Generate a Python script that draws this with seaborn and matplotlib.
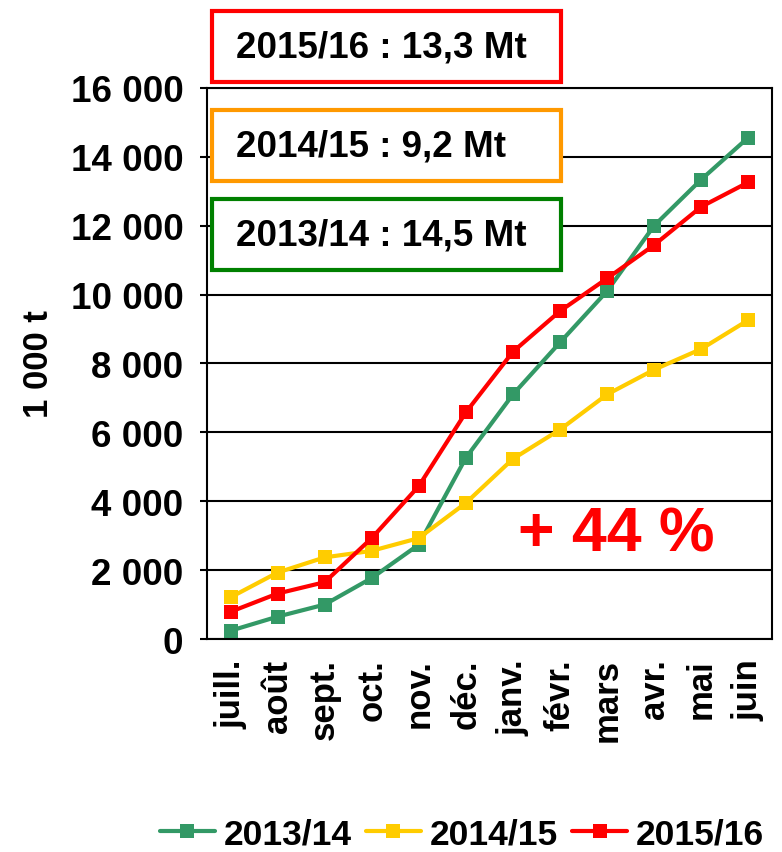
import matplotlib
matplotlib.use("Agg")
import matplotlib.pyplot as plt
from matplotlib.patches import Rectangle
import seaborn as sns
import pandas as pd

# Données (1 000 t, cumul)
mois = ['juill.', 'août', 'sept.', 'oct.', 'nov.', 'déc.', 'janv.', 'févr.', 'mars', 'avr.', 'mai', 'juin']
campagnes = ['2013/14', '2014/15', '2015/16']
v_2013_14 = [240, 650, 1000, 1770, 2740, 5260, 7100, 8610, 10100, 12000, 13340, 14560]
v_2014_15 = [1210, 1930, 2370, 2560, 2930, 3950, 5230, 6080, 7100, 7820, 8420, 9260]
v_2015_16 = [790, 1320, 1650, 2930, 4440, 6580, 8340, 9520, 10470, 11440, 12550, 13260]
couleurs = ['#339966', '#FFCC00', '#FF0000']

encadres = ['2015/16 : 13,3 Mt', '2014/15 : 9,2 Mt', '2013/14 : 14,5 Mt']
couleurs_encadres = ['#FF0000', '#FF9900', '#008000']

df = pd.DataFrame({
    'mois': mois * 3,
    'pos': list(range(len(mois))) * 3,
    'valeur': v_2013_14 + v_2014_15 + v_2015_16,
    'campagne': [c for c in campagnes for _ in mois],
})

sns.set_style('white')
plt.rcParams['font.family'] = ['Liberation Sans', 'DejaVu Sans']
plt.rcParams['font.weight'] = 'bold'
# texte en noir (le style seaborn met du gris foncé)
plt.rcParams['text.color'] = 'black'
plt.rcParams['axes.labelcolor'] = 'black'
plt.rcParams['xtick.color'] = 'black'
plt.rcParams['ytick.color'] = 'black'

fig = plt.figure(figsize=(7.82, 8.53), dpi=100)
ax = fig.add_axes([0.2647, 0.2497, 0.7222, 0.6460])

sns.lineplot(data=df, x='pos', y='valeur', hue='campagne', palette=couleurs,
             marker='s', markersize=9.5, markeredgewidth=0, linewidth=3,
             ax=ax, legend=False)

ax.set_xlim(-0.5, 11.5)
ax.set_ylim(0, 16000)
ax.set_yticks(range(0, 16001, 2000))
ax.set_yticklabels([f'{v:,}'.replace(',', ' ') for v in range(0, 16001, 2000)],
                   fontsize=26.5, fontweight='bold')
ax.set_xticks(range(len(mois)))
ax.set_xticklabels(mois, rotation=90, fontsize=25, fontweight='bold')
ax.set_xticks([i + 0.5 for i in range(-1, 12)], minor=True)
ax.tick_params(axis='x', which='major', length=0, pad=14)
ax.tick_params(axis='x', which='minor', length=9, width=1.5, direction='out', color='black')
ax.tick_params(axis='y', length=5, width=1.5, direction='out', color='black', left=True, pad=12)
ax.set_xlabel('')
ax.set_ylabel('1 000 t', fontsize=25, fontweight='bold')
ax.yaxis.set_label_coords(-0.27, 0.5)

ax.grid(axis='y', color='black', linewidth=1.5)
ax.set_axisbelow(True)
for s in ax.spines.values():
    s.set_visible(True)
    s.set_color('black')
    s.set_linewidth(1.5)

ax.text(8.2, 3050, '+ 44 %', color='#FF0000', fontsize=45, fontweight='bold',
        ha='center', va='center')

# Encadrés des totaux
W, H = 782, 853
tops = [12, 111, 200]
for txt, col, top in zip(encadres, couleurs_encadres, tops):
    x0, x1, y0, y1 = 212, 561, top, top + 71
    fig.add_artist(Rectangle((x0 / W, 1 - y1 / H), (x1 - x0) / W, (y1 - y0) / H,
                             transform=fig.transFigure, facecolor='white',
                             edgecolor=col, linewidth=3, zorder=5))
    fig.text(236 / W, 1 - (top + 36) / H, txt, fontsize=26.5, fontweight='bold',
             ha='left', va='center', zorder=6)

handles = [plt.Line2D([], [], color=c, marker='s', markersize=9.5, markeredgewidth=0,
                      linewidth=3) for c in couleurs]
fig.legend(handles, campagnes, loc='center', bbox_to_anchor=(462 / W, 1 - 835 / H),
           ncol=3, frameon=False, handlelength=1.55, handletextpad=0.25,
           columnspacing=0.4, borderpad=0, prop={'weight': 'bold', 'size': 25.5})

fig.savefig('out.png', dpi=100, facecolor='white')
